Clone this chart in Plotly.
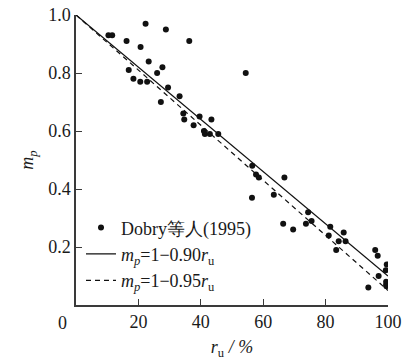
import plotly.graph_objects as go

# Data: pore-pressure ratio r_u (%) vs m_p
ru_pts = [10.4, 11.6, 16.2, 16.9, 18.4, 20.6, 20.7, 22.3, 22.8, 23.3,
          26.0, 27.2, 27.7, 28.8, 29.5, 33.2, 34.4, 34.7, 36.3, 37.7,
          39.6, 41.0, 41.3, 42.9, 43.4, 45.6, 54.4, 56.4, 56.5, 57.7,
          58.6, 63.4, 66.4, 66.8, 69.6, 73.7, 74.4, 75.5, 81.0, 81.5,
          83.4, 84.2, 85.8, 86.4, 93.7, 95.9, 96.7, 97.0, 99.3, 99.6,
          99.4, 99.4, 99.5]
mp_pts = [0.93, 0.93, 0.91, 0.81, 0.78, 0.77, 0.89, 0.97, 0.77, 0.84,
          0.80, 0.70, 0.82, 0.95, 0.75, 0.72, 0.66, 0.64, 0.91, 0.62,
          0.65, 0.60, 0.59, 0.59, 0.64, 0.59, 0.80, 0.37, 0.48, 0.45,
          0.44, 0.38, 0.28, 0.44, 0.26, 0.28, 0.32, 0.29, 0.24, 0.27,
          0.19, 0.22, 0.25, 0.22, 0.06, 0.19, 0.17, 0.10, 0.12, 0.14,
          0.08, 0.07, 0.065]

ru_line = [0, 100]
coef_solid = 0.90
coef_dash = 0.95

x_ticks = [0, 20, 40, 60, 80, 100]
x_ticktext = ["", "20", "40", "60", "80", "100"]
y_ticks = [0.2, 0.4, 0.6, 0.8, 1.0]
y_ticktext = ["0.2", "0.4", "0.6", "0.8", "1.0"]

FONT = "Liberation Serif, Times New Roman, serif"
FS = 18
TXT = "#1a1a1a"
AX = "#3a3a3a"

fig = go.Figure()
fig.add_trace(go.Scatter(
    x=ru_pts, y=mp_pts, mode="markers",
    marker=dict(color="#111111", size=6),
    name="Dobry等人(1995)"))
fig.add_trace(go.Scatter(
    x=ru_line, y=[1 - coef_solid * r / 100 for r in ru_line], mode="lines",
    line=dict(color="#111111", width=1.3),
    name="<i>m</i><sub><i>p</i></sub>=1\u22120.90<i>r</i><sub>u</sub>"))
fig.add_trace(go.Scatter(
    x=ru_line, y=[1 - coef_dash * r / 100 for r in ru_line], mode="lines",
    line=dict(color="#111111", width=1.2, dash="5px,4px"),
    name="<i>m</i><sub><i>p</i></sub>=1\u22120.95<i>r</i><sub>u</sub>"))

fig.update_layout(
    width=407, height=362,
    margin=dict(l=76, r=19, t=15, b=57, autoexpand=False),
    paper_bgcolor="white", plot_bgcolor="white",
    font=dict(family=FONT, size=FS, color=TXT),
    showlegend=True,
    legend=dict(x=0.016, y=0.33, xanchor="left", yanchor="top",
                bgcolor="rgba(0,0,0,0)", font=dict(family=FONT, size=FS, color=TXT),
                tracegroupgap=0, itemwidth=30),
    xaxis=dict(range=[0, 100], tickvals=x_ticks, ticktext=x_ticktext,
               ticks="inside", ticklen=6, tickcolor=AX, tickwidth=1.2,
               showline=True, linecolor=AX, linewidth=1.5, showgrid=False,
               zeroline=False, tickfont=dict(size=FS), automargin=False,
               title=dict(text="<i>r</i><sub>u</sub> <i>/ %</i>", font=dict(size=FS), standoff=9)),
    yaxis=dict(range=[0, 1.0], tickvals=y_ticks, ticktext=y_ticktext,
               ticks="inside", ticklen=6, tickcolor=AX, tickwidth=1.2,
               showline=True, linecolor=AX, linewidth=1.5, showgrid=False,
               zeroline=False, tickfont=dict(size=FS), automargin=False,
               title=dict(text="<i>m</i><sub><i>p</i></sub>", font=dict(size=FS), standoff=10)),
)
fig.add_annotation(x=0, y=0, xref="x", yref="y", text="0", showarrow=False,
                   xshift=-14, yshift=-18, font=dict(family=FONT, size=FS, color=TXT))

fig.write_html("out.html", config={"displayModeBar": False},
               post_script="document.body.style.margin='0';")
